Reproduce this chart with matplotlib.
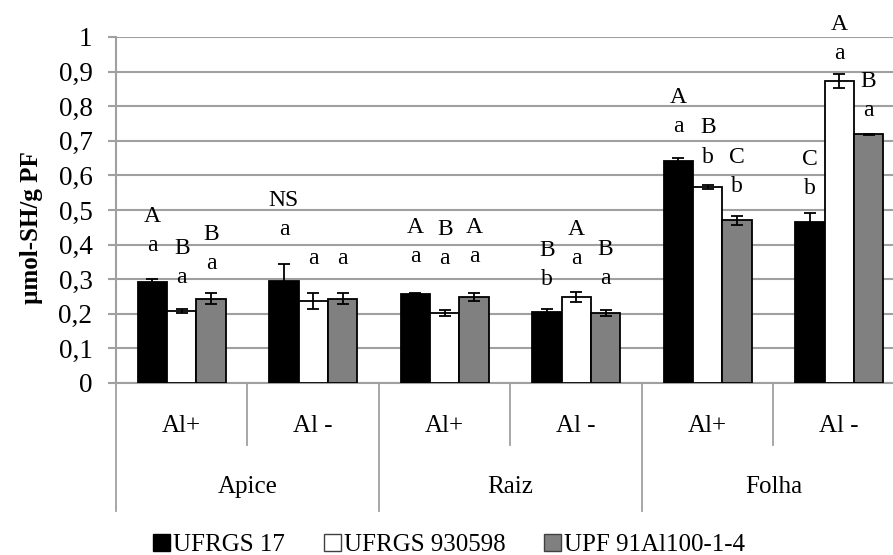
import numpy as np
import matplotlib
matplotlib.use("Agg")
from matplotlib import pyplot as plt
from matplotlib.patches import Patch
from matplotlib.transforms import blended_transform_factory

plt.rcParams['font.family'] = ['Liberation Serif', 'DejaVu Serif']

# dados
grupos = ['Apice', 'Raiz', 'Folha']
tratamentos = ['Al+', 'Al -', 'Al+', 'Al -', 'Al+', 'Al -']
series = ['UFRGS 17', 'UFRGS 930598', 'UPF 91Al100-1-4']

ufrgs17 = [0.293, 0.295, 0.258, 0.206, 0.642, 0.466]
ufrgs930598 = [0.209, 0.236, 0.202, 0.248, 0.566, 0.874]
upf91 = [0.243, 0.243, 0.248, 0.202, 0.470, 0.719]

err17 = [0.008, 0.050, 0.002, 0.009, 0.007, 0.024]
err930598 = [0.006, 0.023, 0.008, 0.014, 0.006, 0.020]
err_upf = [0.016, 0.016, 0.011, 0.009, 0.012, 0.002]

letras_maiusc = [['A', 'B', 'B'], ['NS', '', ''], ['A', 'B', 'A'],
                 ['B', 'A', 'B'], ['A', 'B', 'C'], ['C', 'A', 'B']]
letras_minusc = [['a', 'a', 'a'], ['a', 'a', 'a'], ['a', 'a', 'a'],
                 ['b', 'a', 'a'], ['a', 'b', 'b'], ['b', 'a', 'a']]
# altura da letra minúscula (a maiúscula fica logo acima)
altura_letras = [[0.398, 0.305, 0.345], [0.443, 0.360, 0.360], [0.365, 0.359, 0.365],
                 [0.299, 0.360, 0.302], [0.740, 0.653, 0.567], [0.562, 0.953, 0.788]]

valores = [ufrgs17, ufrgs930598, upf91]
erros = [err17, err930598, err_upf]
cores = ['#000000', '#ffffff', '#808080']

fig = plt.figure(figsize=(8.93, 5.55), dpi=100)
ax = fig.add_axes([116/893, 172/555, 789/893, 346/555])

x = np.arange(len(tratamentos)) + 0.5
w = 0.223
cinza = '#a0a0a0'

for i in range(3):
    ax.bar(x + (i - 1)*w, valores[i], w, color=cores[i], edgecolor='black',
           linewidth=1.3, zorder=3)
    ax.errorbar(x + (i - 1)*w, valores[i], yerr=erros[i], fmt='none',
                ecolor='black', elinewidth=1.3, capsize=4.5, capthick=1.3, zorder=4)

for j in range(len(tratamentos)):
    for i in range(3):
        xi = x[j] + (i - 1)*w
        y0 = altura_letras[j][i]
        ax.text(xi, y0, letras_minusc[j][i], ha='center', va='center', fontsize=17)
        if letras_maiusc[j][i]:
            ax.text(xi, y0 + 0.084, letras_maiusc[j][i], ha='center', va='center', fontsize=17)

ax.set_xlim(0, 6)
ax.set_ylim(0, 1)
ax.set_yticks(np.arange(0, 1.01, 0.1))
ax.set_yticklabels(['0'] + [('%.1f' % v).replace('.', ',') for v in np.arange(0.1, 0.95, 0.1)] + ['1'],
                   fontsize=19.5)
ax.set_xticks([])
ax.grid(axis='y', color=cinza, linewidth=1.5, zorder=0)
ax.tick_params(axis='y', length=6, width=1.5, color=cinza, pad=11)
for s in ['top', 'right']:
    ax.spines[s].set_visible(False)
ax.spines['left'].set_color(cinza)
ax.spines['left'].set_linewidth(1.5)
ax.spines['bottom'].set_color(cinza)
ax.spines['bottom'].set_linewidth(1.5)

# rótulos de categorias em dois níveis
tr = blended_transform_factory(ax.transData, ax.transAxes)
for k in range(7):
    fim = -0.37 if k % 2 == 0 else -0.179
    ax.plot([k, k], [0, fim], color=cinza, linewidth=1.3, transform=tr, clip_on=False)
for j, t in enumerate(tratamentos):
    ax.text(x[j], -0.124, t, ha='center', va='center', fontsize=18, transform=tr)
for g, nome in enumerate(grupos):
    ax.text(2*g + 1, -0.30, nome, ha='center', va='center', fontsize=18, transform=tr)

ax.set_ylabel('µmol-SH/g PF', fontsize=18, fontweight='bold')
ax.yaxis.set_label_coords(-0.093, 0.45)

handles = [Patch(facecolor=cores[0], edgecolor='black'),
           Patch(facecolor=cores[1], edgecolor='#404040'),
           Patch(facecolor=cores[2], edgecolor='#404040')]
fig.legend(handles, series, loc='center left', bbox_to_anchor=(153/893, 10/555), ncol=3,
           frameon=False, fontsize=18, handlelength=0.68, handleheight=0.68,
           handletextpad=0.12, columnspacing=1.55, borderaxespad=0, borderpad=0)

fig.savefig('out.png', dpi=100)
